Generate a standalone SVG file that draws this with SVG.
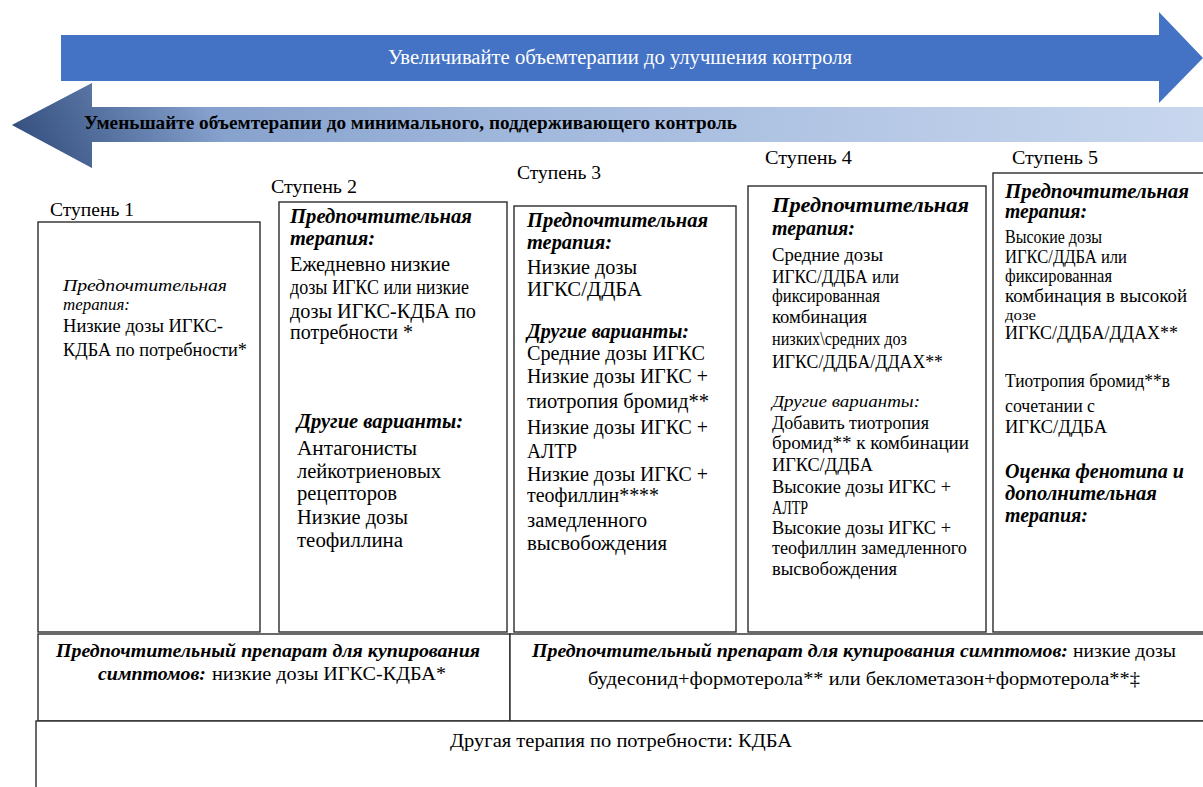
<svg xmlns="http://www.w3.org/2000/svg" width="1203" height="787" viewBox="0 0 1203 787">
<style>
.t{font-size:20px;fill:#000}
.s{font-size:18px}
.bi{font-weight:bold;font-style:italic;font-size:20px}
.i{font-style:italic;font-size:17px}
.lbl{font-size:19px;fill:#000}
.box{fill:#fff;stroke:#2b2b2b;stroke-width:1.4}
</style>
<defs>
<linearGradient id="gl" gradientUnits="userSpaceOnUse" x1="12" y1="0" x2="1203" y2="0">
<stop offset="0" stop-color="#7391C2"/>
<stop offset="0.4" stop-color="#9FB6DB"/>
<stop offset="1" stop-color="#C8D7EE"/>
</linearGradient>
<linearGradient id="gd" gradientUnits="userSpaceOnUse" x1="30" y1="172" x2="190" y2="80">
<stop offset="0" stop-color="#1E3866" stop-opacity="0.75"/>
<stop offset="1" stop-color="#1E3866" stop-opacity="0"/>
</linearGradient>
</defs>
<rect width="1203" height="787" fill="#fff"/>

<g id="arrow-decrease">
<path d="M1203,107 H92 V83 L12,125 L92,168 V142 H1203 Z" fill="url(#gl)"/>
<path d="M1203,107 H92 V83 L12,125 L92,168 V142 H1203 Z" fill="url(#gd)"/>
<text font-family="Liberation Serif" class="lbl" x="84" y="129" font-weight="bold" textLength="653" lengthAdjust="spacingAndGlyphs">Уменьшайте объемтерапии до минимального, поддерживающего контроль</text>
</g>
<g id="arrow-increase">
<path d="M61,35 H1159 V12 L1203,58 L1159,103 V81 H61 Z" fill="#4472C4"/>
<text font-family="Liberation Serif" class="lbl" x="388" y="64" style="fill:#fff;font-size:20px" textLength="464" lengthAdjust="spacingAndGlyphs">Увеличивайте объемтерапии до улучшения контроля</text>
</g>

<g id="step1">
<text font-family="Liberation Serif" class="lbl" x="50" y="216" textLength="84" lengthAdjust="spacingAndGlyphs">Ступень 1</text>
<rect class="box" x="38" y="222" width="222" height="410"/>
<text font-family="Liberation Serif" class="t i" x="63" y="291" textLength="164" lengthAdjust="spacingAndGlyphs">Предпочтительная</text>
<text font-family="Liberation Serif" class="t i" x="63" y="310" textLength="67" lengthAdjust="spacingAndGlyphs">терапия:</text>
<text font-family="Liberation Serif" class="t" x="63" y="332" style="font-size:19px" textLength="160" lengthAdjust="spacingAndGlyphs">Низкие дозы ИГКС-</text>
<text font-family="Liberation Serif" class="t" x="63" y="356" style="font-size:19px" textLength="184" lengthAdjust="spacingAndGlyphs">КДБА по потребности*</text>
</g>

<g id="step2">
<text font-family="Liberation Serif" class="lbl" x="271" y="193" textLength="86" lengthAdjust="spacingAndGlyphs">Ступень 2</text>
<rect class="box" x="279" y="202" width="228" height="430"/>
<text font-family="Liberation Serif" class="t bi" x="290" y="223" textLength="182" lengthAdjust="spacingAndGlyphs">Предпочтительная</text>
<text font-family="Liberation Serif" class="t bi" x="290" y="245" textLength="85" lengthAdjust="spacingAndGlyphs">терапия:</text>
<text font-family="Liberation Serif" class="t" x="290" y="271" textLength="160" lengthAdjust="spacingAndGlyphs">Ежедневно низкие</text>
<text font-family="Liberation Serif" class="t" x="290" y="294" textLength="179" lengthAdjust="spacingAndGlyphs">дозы ИГКС или низкие</text>
<text font-family="Liberation Serif" class="t" x="290" y="318" textLength="186" lengthAdjust="spacingAndGlyphs">дозы ИГКС-КДБА по</text>
<text font-family="Liberation Serif" class="t" x="290" y="339" textLength="123" lengthAdjust="spacingAndGlyphs">потребности *</text>
<text font-family="Liberation Serif" class="t bi" x="297" y="428" textLength="166" lengthAdjust="spacingAndGlyphs">Другие варианты:</text>
<text font-family="Liberation Serif" class="t" x="297" y="455" textLength="120" lengthAdjust="spacingAndGlyphs">Антагонисты</text>
<text font-family="Liberation Serif" class="t" x="297" y="478" textLength="144" lengthAdjust="spacingAndGlyphs">лейкотриеновых</text>
<text font-family="Liberation Serif" class="t" x="297" y="500" textLength="100" lengthAdjust="spacingAndGlyphs">рецепторов</text>
<text font-family="Liberation Serif" class="t" x="297" y="524" textLength="111" lengthAdjust="spacingAndGlyphs">Низкие дозы</text>
<text font-family="Liberation Serif" class="t" x="297" y="547" textLength="106" lengthAdjust="spacingAndGlyphs">теофиллина</text>
</g>

<g id="step3">
<text font-family="Liberation Serif" class="lbl" x="517" y="179" textLength="84" lengthAdjust="spacingAndGlyphs">Ступень 3</text>
<rect class="box" x="514" y="206" width="222" height="426"/>
<text font-family="Liberation Serif" class="t bi" x="527" y="227" textLength="181" lengthAdjust="spacingAndGlyphs">Предпочтительная</text>
<text font-family="Liberation Serif" class="t bi" x="527" y="249" textLength="85" lengthAdjust="spacingAndGlyphs">терапия:</text>
<text font-family="Liberation Serif" class="t" x="527" y="274" textLength="110" lengthAdjust="spacingAndGlyphs">Низкие дозы</text>
<text font-family="Liberation Serif" class="t" x="527" y="296" textLength="115" lengthAdjust="spacingAndGlyphs">ИГКС/ДДБА</text>
<text font-family="Liberation Serif" class="t bi" x="527" y="338" textLength="162" lengthAdjust="spacingAndGlyphs">Другие варианты:</text>
<text font-family="Liberation Serif" class="t" x="527" y="360" textLength="178" lengthAdjust="spacingAndGlyphs">Средние дозы ИГКС</text>
<text font-family="Liberation Serif" class="t" x="527" y="383" textLength="181" lengthAdjust="spacingAndGlyphs">Низкие дозы ИГКС +</text>
<text font-family="Liberation Serif" class="t" x="527" y="408" textLength="182" lengthAdjust="spacingAndGlyphs">тиотропия бромид**</text>
<text font-family="Liberation Serif" class="t" x="527" y="434" textLength="181" lengthAdjust="spacingAndGlyphs">Низкие дозы ИГКС +</text>
<text font-family="Liberation Serif" class="t" x="527" y="458" textLength="50" lengthAdjust="spacingAndGlyphs">АЛТР</text>
<text font-family="Liberation Serif" class="t" x="527" y="481" textLength="181" lengthAdjust="spacingAndGlyphs">Низкие дозы ИГКС +</text>
<text font-family="Liberation Serif" class="t" x="527" y="502" textLength="132" lengthAdjust="spacingAndGlyphs">теофиллин****</text>
<text font-family="Liberation Serif" class="t" x="527" y="527" textLength="120" lengthAdjust="spacingAndGlyphs">замедленного</text>
<text font-family="Liberation Serif" class="t" x="527" y="550" textLength="140" lengthAdjust="spacingAndGlyphs">высвобождения</text>
</g>

<g id="step4">
<text font-family="Liberation Serif" class="lbl" x="765" y="164" textLength="87" lengthAdjust="spacingAndGlyphs">Ступень 4</text>
<rect class="box" x="748" y="186" width="238" height="446"/>
<text font-family="Liberation Serif" class="t bi" x="772" y="212" textLength="197" lengthAdjust="spacingAndGlyphs">Предпочтительная</text>
<text font-family="Liberation Serif" class="t bi" x="772" y="235" textLength="83" lengthAdjust="spacingAndGlyphs">терапия:</text>
<text font-family="Liberation Serif" class="t s" x="772" y="261" textLength="111" lengthAdjust="spacingAndGlyphs">Средние дозы</text>
<text font-family="Liberation Serif" class="t s" x="772" y="283" textLength="127" lengthAdjust="spacingAndGlyphs">ИГКС/ДДБА или</text>
<text font-family="Liberation Serif" class="t s" x="772" y="302" textLength="108" lengthAdjust="spacingAndGlyphs">фиксированная</text>
<text font-family="Liberation Serif" class="t s" x="772" y="323" textLength="95" lengthAdjust="spacingAndGlyphs">комбинация</text>
<text font-family="Liberation Serif" class="t s" x="772" y="345" textLength="135" lengthAdjust="spacingAndGlyphs">низких\средних доз</text>
<text font-family="Liberation Serif" class="t s" x="772" y="368" textLength="171" lengthAdjust="spacingAndGlyphs">ИГКС/ДДБА/ДДАХ**</text>
<text font-family="Liberation Serif" class="t i" x="772" y="407" textLength="148" lengthAdjust="spacingAndGlyphs">Другие варианты:</text>
<text font-family="Liberation Serif" class="t s" x="772" y="429" textLength="157" lengthAdjust="spacingAndGlyphs">Добавить тиотропия</text>
<text font-family="Liberation Serif" class="t s" x="772" y="449" textLength="197" lengthAdjust="spacingAndGlyphs">бромид** к комбинации</text>
<text font-family="Liberation Serif" class="t s" x="772" y="471" textLength="101" lengthAdjust="spacingAndGlyphs">ИГКС/ДДБА</text>
<text font-family="Liberation Serif" class="t s" x="772" y="493" textLength="179" lengthAdjust="spacingAndGlyphs">Высокие дозы ИГКС +</text>
<text font-family="Liberation Serif" class="t s" x="772" y="514" textLength="36" lengthAdjust="spacingAndGlyphs">АЛТР</text>
<text font-family="Liberation Serif" class="t s" x="772" y="534" textLength="179" lengthAdjust="spacingAndGlyphs">Высокие дозы ИГКС +</text>
<text font-family="Liberation Serif" class="t s" x="772" y="554" textLength="195" lengthAdjust="spacingAndGlyphs">теофиллин замедленного</text>
<text font-family="Liberation Serif" class="t s" x="772" y="575" textLength="125" lengthAdjust="spacingAndGlyphs">высвобождения</text>
</g>

<g id="step5">
<text font-family="Liberation Serif" class="lbl" x="1012" y="164" textLength="86" lengthAdjust="spacingAndGlyphs">Ступень 5</text>
<rect class="box" x="993" y="173" width="215" height="459"/>
<text font-family="Liberation Serif" class="t bi" x="1005" y="198" textLength="184" lengthAdjust="spacingAndGlyphs">Предпочтительная</text>
<text font-family="Liberation Serif" class="t bi" x="1005" y="218" textLength="82" lengthAdjust="spacingAndGlyphs">терапия:</text>
<text font-family="Liberation Serif" class="t s" x="1005" y="243" textLength="97" lengthAdjust="spacingAndGlyphs">Высокие дозы</text>
<text font-family="Liberation Serif" class="t s" x="1005" y="263" textLength="122" lengthAdjust="spacingAndGlyphs">ИГКС/ДДБА или</text>
<text font-family="Liberation Serif" class="t s" x="1005" y="282" textLength="107" lengthAdjust="spacingAndGlyphs">фиксированная</text>
<text font-family="Liberation Serif" class="t s" x="1005" y="302" textLength="182" lengthAdjust="spacingAndGlyphs">комбинация в высокой</text>
<text font-family="Liberation Serif" class="t" x="1005" y="320" style="font-size:15px" textLength="31" lengthAdjust="spacingAndGlyphs">дозе</text>
<text font-family="Liberation Serif" class="t s" x="1005" y="339" textLength="173" lengthAdjust="spacingAndGlyphs">ИГКС/ДДБА/ДДАХ**</text>
<text font-family="Liberation Serif" class="t s" x="1005" y="387" textLength="165" lengthAdjust="spacingAndGlyphs">Тиотропия бромид**в</text>
<text font-family="Liberation Serif" class="t s" x="1005" y="412" textLength="90" lengthAdjust="spacingAndGlyphs">сочетании с</text>
<text font-family="Liberation Serif" class="t s" x="1005" y="433" textLength="102" lengthAdjust="spacingAndGlyphs">ИГКС/ДДБА</text>
<text font-family="Liberation Serif" class="t bi" x="1005" y="478" textLength="179" lengthAdjust="spacingAndGlyphs">Оценка фенотипа и</text>
<text font-family="Liberation Serif" class="t bi" x="1005" y="500" textLength="152" lengthAdjust="spacingAndGlyphs">дополнительная</text>
<text font-family="Liberation Serif" class="t bi" x="1005" y="522" textLength="83" lengthAdjust="spacingAndGlyphs">терапия:</text>
</g>

<g id="reliever-left">
<rect class="box" x="38" y="634" width="472" height="87"/>
<text font-family="Liberation Serif" class="t bi" x="56" y="657" style="font-size:19px" textLength="424" lengthAdjust="spacingAndGlyphs">Предпочтительный препарат для купирования</text>
<text font-family="Liberation Serif" class="t bi" x="98" y="680" style="font-size:19px" textLength="108" lengthAdjust="spacingAndGlyphs">симптомов:</text>
<text font-family="Liberation Serif" class="t" x="212" y="680" style="font-size:19px" textLength="234" lengthAdjust="spacingAndGlyphs">низкие дозы ИГКС-КДБА*</text>
</g>

<g id="reliever-right">
<rect class="box" x="510" y="634" width="700" height="87"/>
<text font-family="Liberation Serif" class="t bi" x="532" y="657" style="font-size:19px" textLength="536" lengthAdjust="spacingAndGlyphs">Предпочтительный препарат для купирования симптомов:</text>
<text font-family="Liberation Serif" class="t" x="1073" y="657" style="font-size:19px" textLength="103" lengthAdjust="spacingAndGlyphs">низкие дозы</text>
<text font-family="Liberation Serif" class="t" x="588" y="685" style="font-size:19px" textLength="552" lengthAdjust="spacingAndGlyphs">будесонид+формотерола** или беклометазон+формотерола**‡</text>
</g>

<g id="other-therapy">
<rect class="box" x="36" y="721" width="1175" height="70"/>
<text font-family="Liberation Serif" class="t" x="450" y="747" style="font-size:19px" textLength="342" lengthAdjust="spacingAndGlyphs">Другая терапия по потребности: КДБА</text>
</g>

<g id="connectors"/>
</svg>
